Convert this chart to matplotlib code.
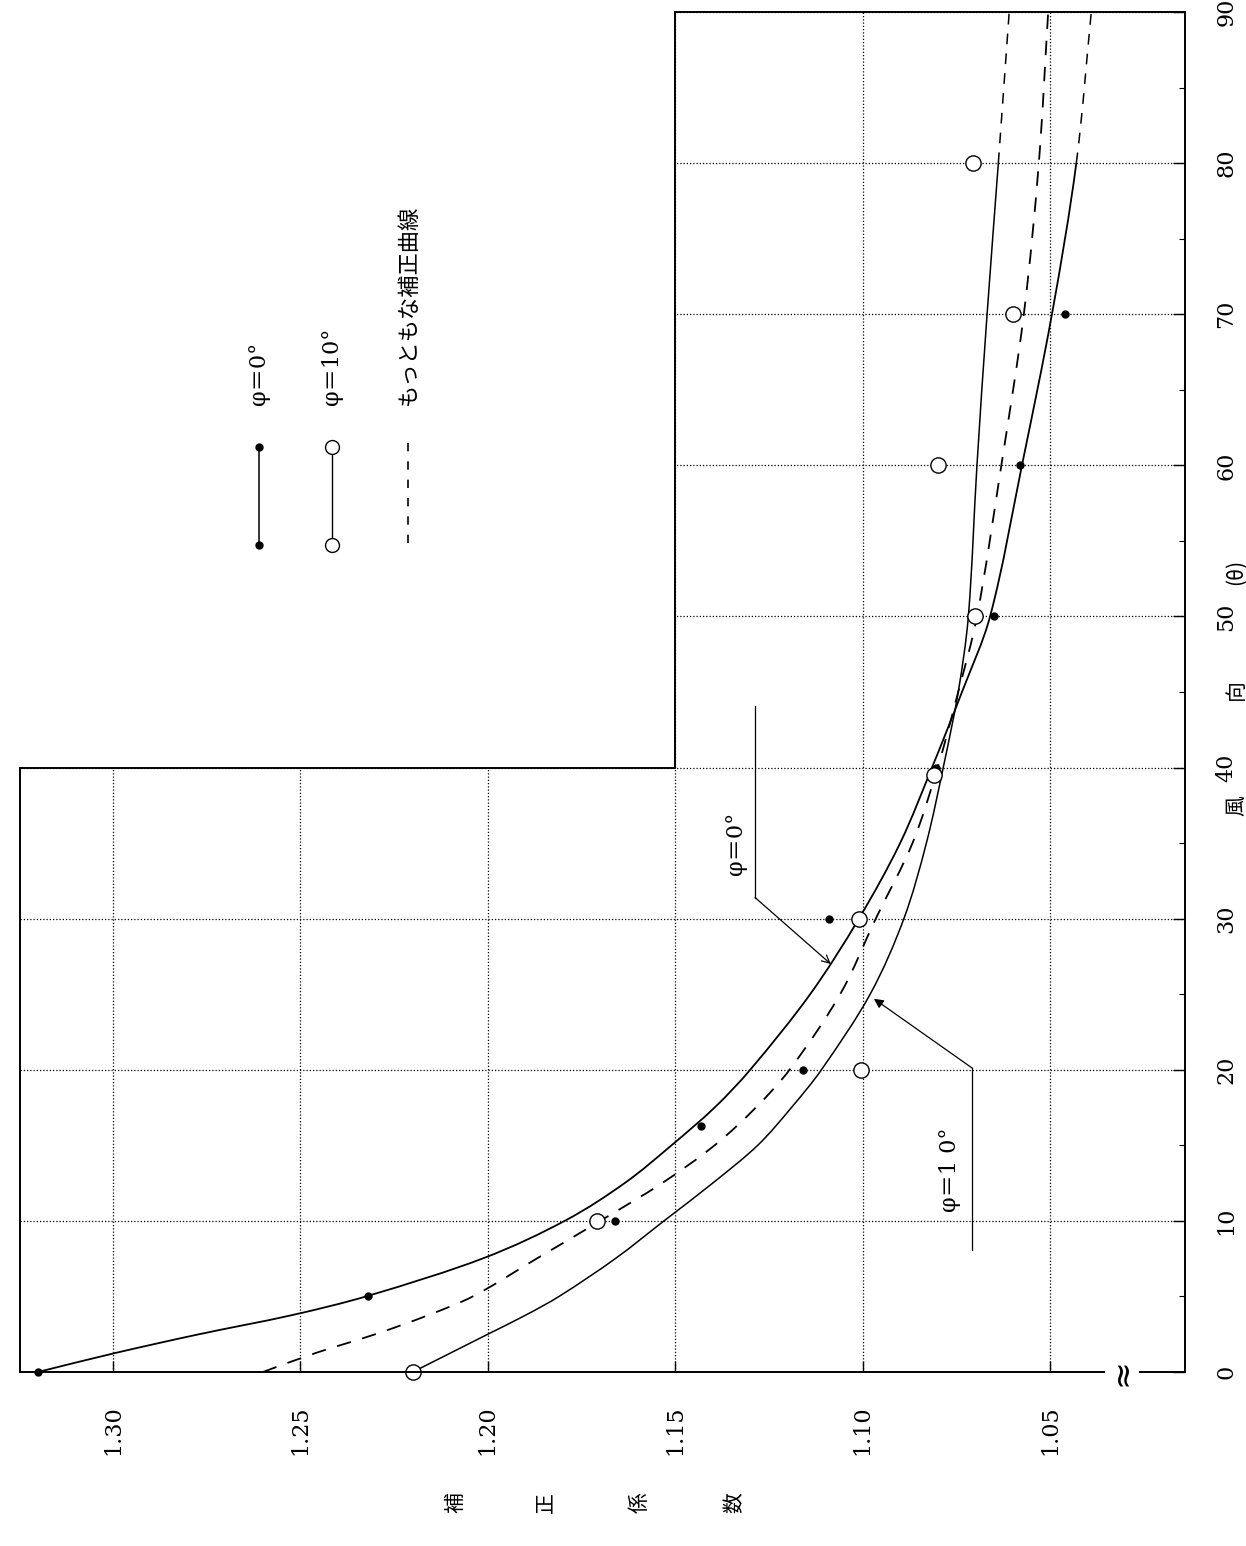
import matplotlib
matplotlib.use("Agg")
import matplotlib.pyplot as plt
import numpy as np
from matplotlib.patches import Polygon, PathPatch
from matplotlib.path import Path
from matplotlib.ticker import FixedLocator, MultipleLocator

# ---------------- data ----------------
curve_theta = [0, 1.25, 2.5, 3.75, 5, 7.5, 10, 12.5, 15, 17.5, 20, 25, 30, 35,
               40, 45, 50, 60, 70, 80, 90]
curve_phi0 = [1.320, 1.2995, 1.277, 1.2525, 1.2325, 1.2015, 1.1795, 1.1635,
              1.151, 1.1395, 1.130, 1.114, 1.101, 1.090, 1.0815, 1.0735,
              1.066, 1.0575, 1.0495, 1.043, 1.039]
curve_phi10 = [1.220, 1.210, 1.200, 1.190, 1.181, 1.166, 1.153, 1.140, 1.128,
               1.119, 1.111, 1.098, 1.089, 1.083, 1.0785, 1.0745, 1.0718,
               1.0695, 1.0668, 1.0638, 1.0609]
curve_best = [1.260, 1.246, 1.230, 1.216, 1.204, 1.187, 1.170, 1.1535, 1.1395,
              1.1285, 1.1195, 1.106, 1.0965, 1.0867, 1.080, 1.0745, 1.0695,
              1.063, 1.057, 1.053, 1.0505]
measured_limit = 80  # curves are drawn dashed beyond this wind direction

pts_phi0_theta = [0, 5, 10, 16.3, 20, 30, 40, 50, 60, 70]
pts_phi0 = [1.320, 1.232, 1.166, 1.143, 1.116, 1.109, 1.0805, 1.065, 1.058, 1.046]
pts_phi10_theta = [0, 10, 20, 30, 39.5, 50, 60, 70, 80]
pts_phi10 = [1.220, 1.171, 1.1005, 1.101, 1.081, 1.070, 1.080, 1.060, 1.0705]

coef_ticks = [1.30, 1.25, 1.20, 1.15, 1.10, 1.05]
coef_ticklabels = ["1.30", "1.25", "1.20", "1.15", "1.10", "1.05"]
theta_ticks = [0, 10, 20, 30, 40, 50, 60, 70, 80, 90]
theta_ticklabels = ["0", "10", "20", "30", "40", "50", "60", "70", "80", "90"]

legend_labels = ["φ＝0°", "φ＝10°", "もっともな補正曲線"]
annot_labels = ["φ＝0°", "φ＝1 0°"]
xlabel_parts = ["風", "向", "(θ)"]
ylabel_chars = ["補", "正", "係", "数"]

# ---------------- style / layout ----------------
W, H = 1246, 1546
JP = ["Noto Sans CJK JP", "DejaVu Sans"]
PHI = ["DejaVu Serif", "Noto Sans CJK JP"]
plt.rcParams["font.family"] = ["DejaVu Serif"]

fig = plt.figure(figsize=(W / 100, H / 100), dpi=100)
fig.patch.set_facecolor("white")
ax = fig.add_axes([20 / W, (H - 1372) / H, 1165 / W, 1360 / H])
XL, XR = 1.3248, 1.014
ax.set_xlim(XL, XR)
ax.set_ylim(0, 90)
for s in ax.spines.values():
    s.set_visible(False)

# L-shaped frame (upper-left quadrant cut out for the legend)
step_x, step_y = 1.15, 40
frame = Polygon([(XL, 0), (XL, step_y), (step_x, step_y), (step_x, 90),
                 (XR, 90), (XR, 0)], closed=True, fill=False, lw=1.4,
                ec="black", transform=ax.transData, clip_on=False, zorder=5)
ax.add_patch(frame)

# ticks
ax.xaxis.set_major_locator(FixedLocator(coef_ticks))
ax.set_xticklabels(coef_ticklabels, rotation=90, fontsize=16)
ax.yaxis.tick_right()
ax.yaxis.set_major_locator(FixedLocator(theta_ticks))
ax.yaxis.set_minor_locator(MultipleLocator(5))
ax.set_yticklabels(theta_ticklabels, rotation=90, fontsize=16, va="center")
ax.tick_params(axis="x", direction="in", length=8, width=1.0, pad=24,
               top=False, bottom=True)
ax.tick_params(axis="y", which="major", direction="in", length=9, width=1.0,
               pad=22, left=False, right=True)
ax.tick_params(axis="y", which="minor", direction="in", length=4, width=0.8,
               left=False, right=True)

# dotted grid clipped to the L-shaped frame
ax.grid(True, which="major", ls=(0, (1, 1.6)), lw=0.9, color="black")
for gl in ax.get_xgridlines() + ax.get_ygridlines():
    gl.set_clip_path(frame)


# smooth drawing of a read curve: cubic Hermite (Bezier) through every point
def smooth_path(theta, coef, i0, i1):
    t = np.asarray(theta, float)
    c = np.asarray(coef, float)
    n = len(t)
    m = np.empty(n)
    m[0] = (c[1] - c[0]) / (t[1] - t[0])
    m[-1] = (c[-1] - c[-2]) / (t[-1] - t[-2])
    m[1:-1] = (c[2:] - c[:-2]) / (t[2:] - t[:-2])
    verts = [(c[i0], t[i0])]
    codes = [Path.MOVETO]
    for i in range(i0, i1):
        h = t[i + 1] - t[i]
        verts += [(c[i] + m[i] * h / 3, t[i] + h / 3),
                  (c[i + 1] - m[i + 1] * h / 3, t[i + 1] - h / 3),
                  (c[i + 1], t[i + 1])]
        codes += [Path.CURVE4] * 3
    return Path(verts, codes)


def draw_curve(coef, i0, i1, lw, ls="solid"):
    p = PathPatch(smooth_path(curve_theta, coef, i0, i1), fill=False,
                  ec="black", lw=lw, ls=ls, zorder=3, capstyle="butt")
    ax.add_patch(p)


k = curve_theta.index(measured_limit)
last = len(curve_theta) - 1
draw_curve(curve_phi0, 0, k, 1.3)
draw_curve(curve_phi0, k, last, 1.1, (0, (7, 6)))
draw_curve(curve_phi10, 0, k, 1.1)
draw_curve(curve_phi10, k, last, 1.1, (0, (7, 6)))
draw_curve(curve_best, 0, last, 1.3, (0, (8, 6.5)))

# measured points
ax.plot(pts_phi0, pts_phi0_theta, ls="none", marker="o", ms=5,
        color="black", zorder=4, clip_on=False)
ax.plot(pts_phi10, pts_phi10_theta, ls="none", marker="o", ms=11,
        mfc="white", mec="black", mew=1.0, zorder=4, clip_on=False)

# annotations with leader lines
lead0_x, lead0_top, lead0_bot = 1.1287, 44.1, 31.4
tip0 = (1.1085, 27.0)
ax.plot([lead0_x, lead0_x], [lead0_top, lead0_bot], color="black", lw=0.9)
ax.annotate("", xy=tip0, xytext=(lead0_x, lead0_bot),
            arrowprops=dict(arrowstyle="->", lw=0.9, color="black",
                            shrinkA=0, shrinkB=0, mutation_scale=14))
ax.text(1.1338, 35.0, annot_labels[0], rotation=90, ha="center", va="center",
        fontsize=16, family=PHI)

lead10_x, lead10_top, lead10_bot = 1.0707, 20.1, 8.1
tip10 = (1.097, 24.7)
ax.plot([lead10_x, lead10_x], [lead10_top, lead10_bot], color="black", lw=0.9)
ax.annotate("", xy=tip10, xytext=(lead10_x, lead10_top),
            arrowprops=dict(arrowstyle="-|>", lw=0.9, color="black",
                            shrinkA=0, shrinkB=0, mutation_scale=14))
ax.text(1.0768, 13.4, annot_labels[1], rotation=90, ha="center", va="center",
        fontsize=16, family=PHI)

# axis break mark at the bottom edge
ax.text(1.0308, 0, "≈", rotation=90, ha="center", va="center", fontsize=24,
        family=["DejaVu Sans"], zorder=6, clip_on=False,
        bbox=dict(fc="white", ec="none", pad=0.5))

# legend drawn in the cut-out corner
leg_x = [1.2610, 1.2416, 1.2213]
leg_top, leg_bot, leg_text = 61.2, 54.7, 64.0
ax.plot([leg_x[0], leg_x[0]], [leg_top, leg_bot], color="black", lw=1.1,
        marker="o", ms=5, clip_on=False)
ax.plot([leg_x[1], leg_x[1]], [leg_top, leg_bot], color="black", lw=1.0,
        marker="o", ms=10, mfc="white", mec="black", clip_on=False)
ax.plot([leg_x[2], leg_x[2]], [leg_top + 0.3, leg_bot], color="black", lw=1.2,
        dashes=(5, 6), clip_on=False)
leg_fams = [PHI, PHI, JP]
for lx, lab, fam in zip(leg_x, legend_labels, leg_fams):
    ax.text(lx, leg_text, lab, rotation=90, ha="center", va="bottom",
            fontsize=16, family=fam)

# axis titles (rotated page)
for txt, ypx in zip(xlabel_parts, [806, 690, 572]):
    fig.text(1236 / W, 1 - ypx / H, txt, rotation=90, ha="center",
             va="center", fontsize=15, family=JP)
for txt, xpx in zip(ylabel_chars, [455, 545, 640, 735]):
    fig.text(xpx / W, 1 - 1503 / H, txt, rotation=90, ha="center",
             va="center", fontsize=15, family=JP)

fig.savefig("out.png", dpi=100, facecolor="white")
